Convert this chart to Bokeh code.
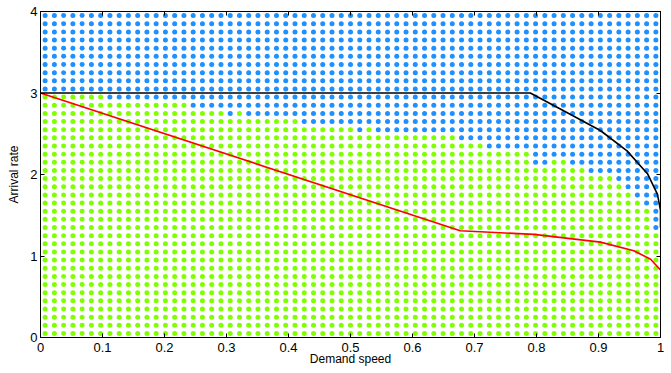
import numpy as np
from bokeh.plotting import figure
from bokeh.models import LinearAxis, FixedTicker, Range1d, ColumnDataSource
from bokeh.embed import file_html
from bokeh.resources import INLINE

# ---- data ----
n_speed = 67          # simulated demand-speed cells over [0, 1]
n_rate = 40           # simulated arrival-rate cells over [0, 4]
# highest arrival rate (row centre) that is still stable (green) in each speed column
green_top = ([2.95] * 7 + [2.85] * 9 + [2.75] * 4 + [2.65, 2.75, 2.65] +
             [2.65] * 5 + [2.55] * 6 + [2.45, 2.55] + [2.45] * 9 +
             [2.35] * 3 + [2.25] * 5 + [2.05] * 2 + [2.15] * 2 + [2.05] * 2 +
             [1.95] * 3 + [1.85, 1.75, 1.65, 1.55, 1.25])

outer_x = [0.0, 0.79, 0.849, 0.903, 0.946, 0.979, 0.995, 1.0, 1.0]
outer_y = [3.0, 3.0, 2.76, 2.54, 2.29, 2.01, 1.76, 1.56, 1.35]

inner_x = [0.0, 0.677, 0.796, 0.903, 0.957, 0.984, 1.0]
inner_y = [3.0, 1.31, 1.265, 1.17, 1.065, 0.96, 0.83]

x_ticks = [0, 0.1, 0.2, 0.3, 0.4, 0.5, 0.6, 0.7, 0.8, 0.9, 1]
x_tick_labels = ["0", "0.1", "0.2", "0.3", "0.4", "0.5", "0.6", "0.7", "0.8", "0.9", "1"]
y_ticks = [0, 1, 2, 3, 4]

BLUE = "#1e90ff"
GREEN = "#80ff00"
FONT = "Liberation Sans"

xs, ys, cs = [], [], []
for i in range(n_speed):
    xc = (i + 0.5) / n_speed
    for k in range(n_rate):
        yc = (k + 0.5) * 4.0 / n_rate
        xs.append(xc)
        ys.append(yc)
        cs.append(GREEN if yc <= green_top[i] + 1e-6 else BLUE)
src = ColumnDataSource(dict(x=xs, y=ys, c=cs))

p = figure(width=671, height=373, x_range=Range1d(0, 1), y_range=Range1d(0, 4),
           output_backend="svg", toolbar_location=None,
           min_border_left=40, min_border_right=11, min_border_top=11, min_border_bottom=36,
           x_axis_label="Demand speed", y_axis_label="Arrival rate")
p.outline_line_color = "black"
p.outline_line_width = 1
p.xgrid.grid_line_color = None
p.ygrid.grid_line_color = None
p.background_fill_color = "white"
p.border_fill_color = "white"

p.scatter("x", "y", source=src, size=5, fill_color="c", line_color=None)
p.line(outer_x, outer_y, line_color="black", line_width=1.6)
p.line(inner_x, inner_y, line_color="red", line_width=1.6)

def style(ax, labels=True):
    ax.axis_line_color = "black"
    ax.major_tick_in = 4
    ax.major_tick_out = 0
    ax.minor_tick_line_color = None
    ax.major_tick_line_color = "black"
    ax.major_label_text_font = FONT
    ax.major_label_text_color = "black"
    ax.axis_label_text_font = FONT
    ax.axis_label_text_font_style = "normal"
    ax.axis_label_text_font_size = "12px"
    ax.axis_label_text_color = "black"
    if labels:
        ax.major_label_text_font_size = "13px"
    else:
        ax.major_label_text_font_size = "1px"
        ax.major_label_text_color = None
        ax.major_label_standoff = 0

xax = p.xaxis[0]
xax.ticker = FixedTicker(ticks=x_ticks)
xax.major_label_overrides = {t: l for t, l in zip(x_ticks, x_tick_labels)}
style(xax)
xax.major_label_standoff = 5
xax.axis_label_standoff = -3

yax = p.yaxis[0]
yax.ticker = FixedTicker(ticks=y_ticks)
style(yax)
yax.major_label_standoff = 3
yax.axis_label_standoff = 6

top = LinearAxis(ticker=FixedTicker(ticks=x_ticks))
style(top, labels=False)
p.add_layout(top, "above")
right = LinearAxis(ticker=FixedTicker(ticks=y_ticks))
style(right, labels=False)
p.add_layout(right, "right")

open("out.html", "w").write(file_html(p, INLINE))
